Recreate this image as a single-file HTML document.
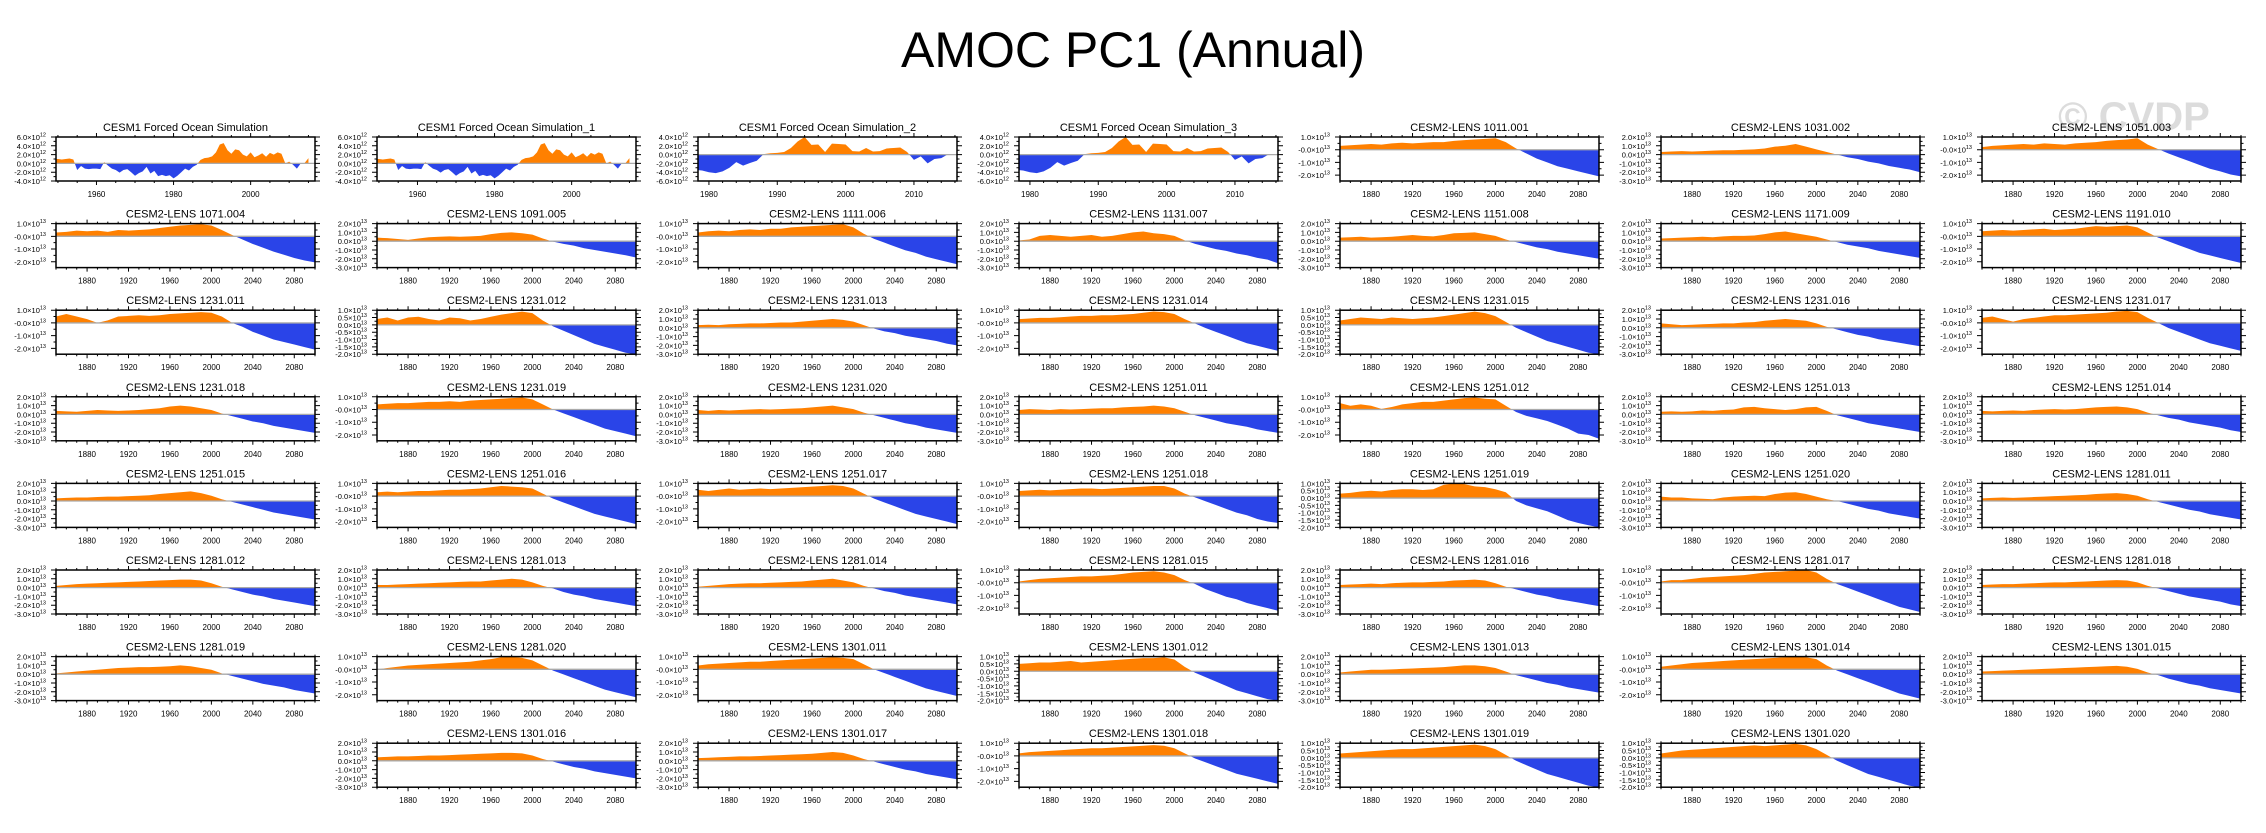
<!DOCTYPE html>
<html><head><meta charset="utf-8"><style>
html,body{margin:0;padding:0;background:#fff;}
svg{display:block;font-family:"Liberation Sans",Arial,sans-serif;}
</style></head><body>
<svg id="fig" width="2266" height="833" viewBox="0 0 2266 833" xmlns="http://www.w3.org/2000/svg">
<rect x="0" y="0" width="2266" height="833" fill="#fff"/>
<text x="1133" y="67" font-size="50" text-anchor="middle" fill="#000">AMOC PC1 (Annual)</text>
<text x="2134" y="130" font-size="40" font-weight="bold" text-anchor="middle" fill="#dcdcdc">© CVDP</text>
<g id="panels"></g>
</svg>
<script>
// ---- chart data ----
const decadeYears = [1850,1860,1870,1880,1890,1900,1910,1920,1930,1940,1950,1960,1970,1980,1990,2000,2010,2020,2030,2040,2050,2060,2070,2080,2090,2100];
const fosYears = [];
for (let y = 1949; y <= 2015; y++) fosYears.push(y);
const fos2Years = [];
for (let y = 1978; y <= 2015; y++) fos2Years.push(y);

const fosValues = [1,1,0.9,1,1.1,0.9,-1.5,-0.6,-1.2,-1.3,-1.2,-1.2,-1.3,0.3,-0.5,-1.2,-1.5,-2.1,-1.5,-1.3,-2.0,-2.8,-2.2,-1.8,-0.8,-2.3,-1.7,-2.9,-2.6,-2.9,-2.7,-3.4,-2.8,-2.0,-1.2,-1.6,-0.8,-0.3,0.8,1.2,1.3,1.6,2.5,4.3,4.6,3.0,2.2,3.2,3.0,2.0,1.6,2.5,1.4,1.8,2.3,1.5,2.4,2.0,2.5,2.2,0.0,0.4,-0.3,-1.2,0.0,0.1,1.2];
const fos1Values = [1,1,0.9,1,1.1,0.9,-1.5,-0.6,-1.2,-1.3,-1.2,-1.2,-1.3,0.3,-0.5,-1.2,-1.5,-2.1,-1.5,-1.3,-2.0,-2.8,-2.2,-1.8,-0.8,-2.3,-1.7,-2.9,-2.6,-2.9,-2.7,-3.4,-2.8,-2.0,-1.2,-1.6,-0.8,-0.3,0.8,1.2,1.3,1.6,2.5,4.3,4.6,3.0,2.2,3.2,3.0,2.0,1.6,2.5,1.4,1.8,2.3,1.5,2.4,2.0,2.5,2.2,0.0,0.4,-0.3,-1.2,0.0,0.1,1.2];
const fos2Values = [-3.5,-3.6,-4.0,-4.2,-3.8,-3.0,-1.7,-2.5,-1.9,-1.4,0.1,0.3,0.4,0.6,1.5,3.0,4.0,2.2,2.3,0.6,2.5,2.4,2.3,0.8,0.7,1.5,0.7,0.8,1.4,1.5,1.6,0.6,-1.2,-0.4,-2.0,-1.0,-0.8,0.1];
const fos3Values = [-3.5,-3.6,-4.0,-4.2,-3.8,-3.0,-1.7,-2.5,-1.9,-1.4,0.1,0.3,0.4,0.6,1.5,3.0,4.0,2.2,2.3,0.6,2.5,2.4,2.3,0.8,0.7,1.5,0.7,0.8,1.4,1.5,1.6,0.6,-1.2,-0.4,-2.0,-1.0,-0.8,0.1];

const d1011_001 = [0.3,0.35,0.4,0.45,0.4,0.5,0.55,0.5,0.55,0.6,0.6,0.7,0.75,0.8,0.85,0.9,0.6,0.1,-0.3,-0.7,-1.0,-1.3,-1.5,-1.7,-1.9,-2.1];
const d1031_002 = [0.3,0.35,0.4,0.35,0.4,0.45,0.5,0.5,0.55,0.6,0.7,0.9,1.0,1.2,0.9,0.6,0.3,0.0,-0.3,-0.5,-0.8,-1.0,-1.3,-1.5,-1.7,-2.0];
const d1051_003 = [0.2,0.3,0.35,0.4,0.45,0.4,0.5,0.45,0.4,0.5,0.55,0.6,0.7,0.75,0.8,0.9,0.4,0.05,-0.3,-0.6,-0.9,-1.2,-1.5,-1.7,-1.95,-2.1];
const d1071_004 = [0.3,0.35,0.45,0.4,0.45,0.35,0.5,0.45,0.5,0.55,0.65,0.75,0.85,0.9,0.95,0.85,0.5,0.1,-0.25,-0.6,-0.9,-1.2,-1.45,-1.7,-1.9,-2.05];
const d1091_005 = [0.4,0.35,0.25,0.15,0.3,0.45,0.5,0.55,0.5,0.55,0.6,0.8,0.95,1.0,0.9,0.75,0.3,-0.05,-0.3,-0.5,-0.8,-1.0,-1.2,-1.4,-1.6,-1.85];
const d1111_006 = [0.3,0.4,0.45,0.4,0.5,0.55,0.5,0.6,0.6,0.7,0.75,0.8,0.85,0.9,0.95,0.7,0.2,-0.2,-0.5,-0.8,-1.1,-1.3,-1.6,-1.8,-2.0,-2.2];
const d1131_007 = [0.1,0.2,0.6,0.7,0.6,0.5,0.6,0.7,0.5,0.6,0.8,1.0,1.1,0.9,0.8,0.6,0.1,-0.3,-0.6,-0.9,-1.1,-1.4,-1.6,-1.9,-2.1,-2.5];
const d1151_008 = [0.4,0.45,0.5,0.4,0.45,0.5,0.6,0.7,0.6,0.55,0.7,0.9,0.95,1.0,0.8,0.6,0.2,-0.1,-0.4,-0.7,-0.9,-1.2,-1.4,-1.6,-1.8,-2.0];
const d1171_009 = [0.3,0.35,0.4,0.45,0.5,0.45,0.55,0.6,0.6,0.65,0.8,1.0,1.1,0.9,0.7,0.5,0.2,-0.1,-0.4,-0.6,-0.8,-1.1,-1.3,-1.5,-1.7,-1.9];
const d1191_010 = [0.4,0.45,0.5,0.45,0.5,0.55,0.6,0.5,0.55,0.6,0.7,0.8,0.75,0.8,0.85,0.7,0.3,-0.1,-0.4,-0.7,-1.0,-1.3,-1.5,-1.7,-1.9,-2.1];
const d1231_011 = [0.5,0.7,0.5,0.3,0.0,0.2,0.5,0.55,0.6,0.55,0.6,0.7,0.75,0.8,0.85,0.8,0.5,0.0,-0.3,-0.7,-1.0,-1.3,-1.5,-1.7,-1.9,-2.1];
const d1231_012 = [0.4,0.5,0.3,0.5,0.55,0.4,0.3,0.5,0.45,0.3,0.4,0.55,0.7,0.8,0.9,0.8,0.3,-0.1,-0.4,-0.7,-1.0,-1.3,-1.5,-1.7,-1.9,-2.0];
const d1231_013 = [0.3,0.35,0.3,0.4,0.45,0.5,0.5,0.55,0.6,0.6,0.7,0.8,0.9,1.0,0.9,0.7,0.3,-0.1,-0.4,-0.6,-0.9,-1.1,-1.3,-1.5,-1.8,-2.0];
const d1231_014 = [0.3,0.35,0.4,0.4,0.45,0.5,0.55,0.55,0.6,0.6,0.65,0.7,0.8,0.9,0.85,0.7,0.3,-0.05,-0.4,-0.7,-1.0,-1.3,-1.6,-1.8,-2.0,-2.2];
const d1231_015 = [0.3,0.4,0.5,0.45,0.4,0.5,0.45,0.4,0.45,0.5,0.6,0.7,0.8,0.9,0.8,0.6,0.2,-0.2,-0.5,-0.8,-1.1,-1.3,-1.5,-1.7,-1.9,-2.0];
const d1231_016 = [0.5,0.4,0.3,0.35,0.4,0.45,0.5,0.5,0.6,0.65,0.8,0.9,1.0,0.9,0.8,0.5,0.1,-0.2,-0.5,-0.8,-1.0,-1.3,-1.5,-1.7,-1.9,-2.1];
const d1231_017 = [0.4,0.5,0.3,0.1,0.3,0.4,0.5,0.6,0.6,0.65,0.7,0.75,0.8,0.9,0.95,0.85,0.4,0.0,-0.4,-0.7,-1.0,-1.3,-1.6,-1.8,-2.0,-2.2];
const d1231_018 = [0.4,0.35,0.3,0.4,0.5,0.45,0.4,0.45,0.5,0.6,0.7,0.9,1.0,0.9,0.7,0.5,0.1,-0.2,-0.5,-0.8,-1.0,-1.3,-1.5,-1.7,-1.9,-2.1];
const d1231_019 = [0.4,0.45,0.5,0.5,0.55,0.6,0.6,0.65,0.6,0.7,0.75,0.8,0.85,0.9,0.95,0.8,0.4,0.0,-0.3,-0.6,-0.9,-1.2,-1.5,-1.7,-1.9,-2.1];
const d1231_020 = [0.5,0.4,0.5,0.45,0.5,0.55,0.6,0.55,0.6,0.65,0.7,0.8,0.9,1.0,0.8,0.6,0.2,-0.1,-0.4,-0.7,-1.0,-1.2,-1.5,-1.7,-1.9,-2.1];
const d1251_011 = [0.5,0.6,0.55,0.5,0.6,0.55,0.6,0.65,0.7,0.7,0.8,0.85,0.9,1.0,0.9,0.7,0.3,-0.1,-0.4,-0.7,-1.0,-1.2,-1.4,-1.7,-1.9,-2.1];
const d1251_012 = [0.5,0.3,0.4,0.3,0.05,0.2,0.4,0.5,0.6,0.6,0.7,0.8,0.9,0.95,0.85,0.8,0.3,-0.2,-0.5,-0.7,-0.9,-1.2,-1.5,-1.9,-2.0,-2.3];
const d1251_013 = [0.3,0.35,0.3,0.35,0.45,0.4,0.5,0.55,0.8,0.85,0.7,0.6,0.5,0.6,0.8,0.85,0.4,-0.1,-0.4,-0.7,-1.0,-1.2,-1.4,-1.6,-1.8,-2.0];
const d1251_014 = [0.4,0.35,0.4,0.45,0.4,0.5,0.55,0.6,0.55,0.6,0.7,0.8,0.85,0.9,0.8,0.6,0.2,-0.1,-0.4,-0.6,-0.9,-1.1,-1.3,-1.5,-1.8,-2.0];
const d1251_015 = [0.3,0.35,0.4,0.4,0.45,0.5,0.5,0.55,0.6,0.65,0.8,0.9,1.0,1.1,0.9,0.6,0.2,-0.1,-0.4,-0.7,-1.0,-1.3,-1.5,-1.7,-1.9,-2.1];
const d1251_016 = [0.3,0.35,0.3,0.35,0.4,0.4,0.45,0.5,0.5,0.55,0.6,0.7,0.8,0.75,0.7,0.6,0.2,-0.2,-0.5,-0.8,-1.1,-1.4,-1.6,-1.8,-2.0,-2.2];
const d1251_017 = [0.5,0.4,0.5,0.6,0.5,0.55,0.6,0.55,0.6,0.65,0.7,0.75,0.8,0.85,0.8,0.6,0.2,-0.2,-0.5,-0.8,-1.1,-1.4,-1.6,-1.8,-2.0,-2.2];
const d1251_018 = [0.4,0.45,0.5,0.45,0.5,0.55,0.6,0.6,0.55,0.6,0.65,0.7,0.75,0.8,0.8,0.6,0.2,-0.1,-0.4,-0.7,-1.0,-1.3,-1.5,-1.8,-2.0,-2.1];
const d1251_019 = [0.3,0.35,0.45,0.5,0.45,0.55,0.6,0.6,0.55,0.6,0.9,1.0,0.95,0.8,0.75,0.6,0.4,-0.2,-0.5,-0.7,-0.9,-1.2,-1.5,-1.7,-1.85,-2.0];
const d1251_020 = [0.5,0.4,0.4,0.3,0.25,0.2,0.4,0.5,0.55,0.6,0.55,0.8,0.95,1.0,0.8,0.5,0.2,0.0,-0.3,-0.6,-0.9,-1.1,-1.4,-1.6,-1.8,-2.0];
const d1281_011 = [0.3,0.35,0.4,0.35,0.4,0.45,0.5,0.55,0.6,0.65,0.7,0.8,0.85,0.9,0.8,0.6,0.2,-0.1,-0.4,-0.7,-1.0,-1.2,-1.5,-1.7,-1.9,-2.1];
const d1281_012 = [0.2,0.3,0.4,0.45,0.5,0.55,0.6,0.65,0.7,0.75,0.8,0.85,0.9,0.9,0.8,0.5,0.1,-0.2,-0.5,-0.8,-1.0,-1.3,-1.5,-1.7,-1.9,-2.1];
const d1281_013 = [0.3,0.3,0.35,0.4,0.45,0.5,0.55,0.6,0.65,0.7,0.7,0.8,0.9,1.0,0.9,0.6,0.2,-0.1,-0.5,-0.8,-1.0,-1.3,-1.5,-1.7,-1.9,-2.1];
const d1281_014 = [0.1,0.2,0.3,0.4,0.45,0.5,0.5,0.55,0.6,0.65,0.7,0.8,0.9,1.0,0.8,0.6,0.2,-0.1,-0.4,-0.6,-0.9,-1.1,-1.3,-1.5,-1.7,-1.9];
const d1281_015 = [0.1,0.2,0.3,0.35,0.4,0.45,0.5,0.5,0.55,0.6,0.7,0.8,0.85,0.9,0.8,0.6,0.2,-0.1,-0.5,-0.8,-1.1,-1.3,-1.6,-1.8,-2.0,-2.2];
const d1281_016 = [0.3,0.35,0.4,0.45,0.4,0.5,0.55,0.6,0.6,0.65,0.7,0.8,0.85,0.9,0.8,0.5,0.1,-0.2,-0.5,-0.8,-1.0,-1.3,-1.5,-1.7,-1.9,-2.1];
const d1281_017 = [0.1,0.2,0.2,0.3,0.4,0.45,0.5,0.55,0.6,0.7,0.8,0.85,0.9,0.95,1.0,0.8,0.3,-0.1,-0.4,-0.7,-1.0,-1.3,-1.6,-1.9,-2.1,-2.3];
const d1281_018 = [0.3,0.35,0.4,0.4,0.45,0.5,0.55,0.6,0.6,0.65,0.7,0.75,0.8,0.85,0.8,0.6,0.2,-0.1,-0.4,-0.7,-1.0,-1.2,-1.4,-1.6,-1.9,-2.1];
const d1281_019 = [0.1,0.2,0.3,0.4,0.5,0.6,0.7,0.75,0.8,0.8,0.85,0.9,1.0,0.9,0.7,0.5,0.1,-0.2,-0.5,-0.8,-1.1,-1.3,-1.5,-1.8,-2.0,-2.2];
const d1281_020 = [0.0,0.1,0.2,0.3,0.35,0.4,0.45,0.5,0.55,0.6,0.7,0.8,0.95,1.0,0.9,0.7,0.3,-0.1,-0.4,-0.7,-1.0,-1.3,-1.6,-1.8,-2.0,-2.2];
const d1301_011 = [0.3,0.4,0.45,0.5,0.55,0.6,0.6,0.65,0.7,0.75,0.8,0.85,0.9,0.95,0.9,0.8,0.4,0.0,-0.3,-0.6,-0.9,-1.2,-1.5,-1.7,-1.9,-2.1];
const d1301_012 = [0.5,0.55,0.6,0.6,0.65,0.7,0.6,0.65,0.7,0.75,0.8,0.85,0.9,0.9,0.95,0.8,0.3,-0.1,-0.4,-0.7,-1.0,-1.3,-1.5,-1.7,-1.9,-2.0];
const d1301_013 = [0.2,0.3,0.4,0.5,0.5,0.55,0.6,0.65,0.7,0.75,0.8,0.9,1.0,1.0,0.9,0.7,0.3,-0.1,-0.4,-0.7,-1.0,-1.2,-1.5,-1.7,-1.9,-2.1];
const d1301_014 = [0.2,0.3,0.4,0.5,0.55,0.6,0.65,0.7,0.75,0.8,0.85,0.9,0.95,1.0,0.95,0.8,0.3,-0.1,-0.4,-0.7,-1.0,-1.3,-1.6,-1.9,-2.1,-2.3];
const d1301_015 = [0.3,0.35,0.4,0.45,0.5,0.55,0.6,0.65,0.7,0.75,0.8,0.85,0.9,0.95,0.85,0.6,0.2,-0.1,-0.5,-0.8,-1.1,-1.3,-1.6,-1.8,-2.0,-2.2];
const d1301_016 = [0.4,0.45,0.5,0.5,0.55,0.6,0.6,0.65,0.7,0.75,0.8,0.85,0.9,0.9,0.85,0.6,0.2,-0.1,-0.4,-0.7,-0.9,-1.2,-1.4,-1.6,-1.8,-2.0];
const d1301_017 = [0.3,0.35,0.4,0.45,0.5,0.5,0.55,0.6,0.65,0.7,0.75,0.8,0.9,1.0,0.9,0.6,0.2,-0.1,-0.4,-0.7,-1.0,-1.2,-1.5,-1.7,-1.9,-2.1];
const d1301_018 = [0.2,0.3,0.35,0.4,0.45,0.5,0.55,0.6,0.6,0.65,0.7,0.75,0.8,0.85,0.8,0.6,0.2,-0.2,-0.5,-0.8,-1.1,-1.4,-1.6,-1.8,-2.0,-2.2];
const d1301_019 = [0.3,0.35,0.4,0.45,0.5,0.55,0.6,0.6,0.65,0.7,0.75,0.8,0.85,0.9,0.8,0.6,0.2,-0.2,-0.5,-0.8,-1.1,-1.3,-1.5,-1.7,-1.9,-2.0];
const d1301_020 = [0.3,0.4,0.5,0.55,0.6,0.65,0.7,0.75,0.8,0.85,0.8,0.85,0.9,0.95,0.85,0.6,0.2,-0.2,-0.5,-0.8,-1.1,-1.3,-1.5,-1.7,-1.9,-2.0];

// tick labels / values
const yTickValsA = [1,0,-1,-2];
const yTickLabsA = ["1.0","-0.0","-1.0","-2.0"];
const yTickValsB = [2,1,0,-1,-2,-3];
const yTickLabsB = ["2.0","1.0","0.0","-1.0","-2.0","-3.0"];
const yTickValsC = [1,0.5,0,-0.5,-1,-1.5,-2];
const yTickLabsC = ["1.0","0.5","0.0","-0.5","-1.0","-1.5","-2.0"];
const yTickValsF = [6,4,2,0,-2,-4];
const yTickLabsF = ["6.0","4.0","2.0","0.0","-2.0","-4.0"];
const yTickValsG = [4,2,0,-2,-4,-6];
const yTickLabsG = ["4.0","2.0","0.0","-2.0","-4.0","-6.0"];
const xTicksLens = [1880,1920,1960,2000,2040,2080];
const xTicksFos = [1960,1980,2000];
const xTicksFos2 = [1980,1990,2000,2010];

const panelList = [
 ["CESM1 Forced Ocean Simulation", fosYears, fosValues, "F"],
 ["CESM1 Forced Ocean Simulation_1", fosYears, fos1Values, "F"],
 ["CESM1 Forced Ocean Simulation_2", fos2Years, fos2Values, "G"],
 ["CESM1 Forced Ocean Simulation_3", fos2Years, fos3Values, "G"],
 ["CESM2-LENS 1011.001", decadeYears, d1011_001, "A"],
 ["CESM2-LENS 1031.002", decadeYears, d1031_002, "B"],
 ["CESM2-LENS 1051.003", decadeYears, d1051_003, "A"],
 ["CESM2-LENS 1071.004", decadeYears, d1071_004, "A"],
 ["CESM2-LENS 1091.005", decadeYears, d1091_005, "B"],
 ["CESM2-LENS 1111.006", decadeYears, d1111_006, "A"],
 ["CESM2-LENS 1131.007", decadeYears, d1131_007, "B"],
 ["CESM2-LENS 1151.008", decadeYears, d1151_008, "B"],
 ["CESM2-LENS 1171.009", decadeYears, d1171_009, "B"],
 ["CESM2-LENS 1191.010", decadeYears, d1191_010, "A"],
 ["CESM2-LENS 1231.011", decadeYears, d1231_011, "A"],
 ["CESM2-LENS 1231.012", decadeYears, d1231_012, "C"],
 ["CESM2-LENS 1231.013", decadeYears, d1231_013, "B"],
 ["CESM2-LENS 1231.014", decadeYears, d1231_014, "A"],
 ["CESM2-LENS 1231.015", decadeYears, d1231_015, "C"],
 ["CESM2-LENS 1231.016", decadeYears, d1231_016, "B"],
 ["CESM2-LENS 1231.017", decadeYears, d1231_017, "A"],
 ["CESM2-LENS 1231.018", decadeYears, d1231_018, "B"],
 ["CESM2-LENS 1231.019", decadeYears, d1231_019, "A"],
 ["CESM2-LENS 1231.020", decadeYears, d1231_020, "B"],
 ["CESM2-LENS 1251.011", decadeYears, d1251_011, "B"],
 ["CESM2-LENS 1251.012", decadeYears, d1251_012, "A"],
 ["CESM2-LENS 1251.013", decadeYears, d1251_013, "B"],
 ["CESM2-LENS 1251.014", decadeYears, d1251_014, "B"],
 ["CESM2-LENS 1251.015", decadeYears, d1251_015, "B"],
 ["CESM2-LENS 1251.016", decadeYears, d1251_016, "A"],
 ["CESM2-LENS 1251.017", decadeYears, d1251_017, "A"],
 ["CESM2-LENS 1251.018", decadeYears, d1251_018, "A"],
 ["CESM2-LENS 1251.019", decadeYears, d1251_019, "C"],
 ["CESM2-LENS 1251.020", decadeYears, d1251_020, "B"],
 ["CESM2-LENS 1281.011", decadeYears, d1281_011, "B"],
 ["CESM2-LENS 1281.012", decadeYears, d1281_012, "B"],
 ["CESM2-LENS 1281.013", decadeYears, d1281_013, "B"],
 ["CESM2-LENS 1281.014", decadeYears, d1281_014, "B"],
 ["CESM2-LENS 1281.015", decadeYears, d1281_015, "A"],
 ["CESM2-LENS 1281.016", decadeYears, d1281_016, "B"],
 ["CESM2-LENS 1281.017", decadeYears, d1281_017, "A"],
 ["CESM2-LENS 1281.018", decadeYears, d1281_018, "B"],
 ["CESM2-LENS 1281.019", decadeYears, d1281_019, "B"],
 ["CESM2-LENS 1281.020", decadeYears, d1281_020, "A"],
 ["CESM2-LENS 1301.011", decadeYears, d1301_011, "A"],
 ["CESM2-LENS 1301.012", decadeYears, d1301_012, "C"],
 ["CESM2-LENS 1301.013", decadeYears, d1301_013, "B"],
 ["CESM2-LENS 1301.014", decadeYears, d1301_014, "A"],
 ["CESM2-LENS 1301.015", decadeYears, d1301_015, "B"],
 null,
 ["CESM2-LENS 1301.016", decadeYears, d1301_016, "B"],
 ["CESM2-LENS 1301.017", decadeYears, d1301_017, "B"],
 ["CESM2-LENS 1301.018", decadeYears, d1301_018, "A"],
 ["CESM2-LENS 1301.019", decadeYears, d1301_019, "C"],
 ["CESM2-LENS 1301.020", decadeYears, d1301_020, "C"]
];

const NS = "http://www.w3.org/2000/svg";
const root = document.getElementById("panels");
function mk(tag, attrs, parent) {
  const e = document.createElementNS(NS, tag);
  for (const k in attrs) e.setAttribute(k, attrs[k]);
  parent.appendChild(e);
  return e;
}
const axisCfg = {
  A: {vals: yTickValsA, labs: yTickLabsA, top: 1, bot: -2.46, exp: "13", minor: 0.5},
  B: {vals: yTickValsB, labs: yTickLabsB, top: 2, bot: -3, exp: "13", minor: 0.5},
  C: {vals: yTickValsC, labs: yTickLabsC, top: 1, bot: -2, exp: "13", minor: 0.25},
  F: {vals: yTickValsF, labs: yTickLabsF, top: 6, bot: -4, exp: "12", minor: 1},
  G: {vals: yTickValsG, labs: yTickLabsG, top: 4, bot: -6, exp: "12", minor: 1}
};
const PW = 259, PH = 44;

panelList.forEach((p, i) => {
  if (!p) return;
  const col = i % 7, row = Math.floor(i / 7);
  const L = 56 + col * 321, T = 137 + row * 86.6, R = L + PW, B = T + PH;
  const title = p[0], xs = p[1], ys = p[2], cfg = axisCfg[p[3]];
  let xmin, xmax, xMaj, xMinStep;
  if (p[3] === "F") { xmin = 1949.5; xmax = 2016.7; xMaj = xTicksFos; xMinStep = 5; }
  else if (p[3] === "G") { xmin = 1978.4; xmax = 2016.3; xMaj = xTicksFos2; xMinStep = 2; }
  else { xmin = 1850; xmax = 2100; xMaj = xTicksLens; xMinStep = 10; }
  const sx = v => L + (v - xmin) / (xmax - xmin) * PW;
  const sy = v => T + (cfg.top - v) / (cfg.top - cfg.bot) * PH;

  const g = mk("g", {}, root);
  
  

  const t = mk("text", {x: L + PW / 2, y: T - 6, "font-size": 11, "text-anchor": "middle", fill: "#000"}, g);
  t.textContent = title;
  
  

  const cid = "c" + i;
  const defs = mk("defs", {}, g);
  const cpPos = mk("clipPath", {id: cid + "p"}, defs);
  mk("rect", {x: L, y: T, width: PW, height: sy(0) - T}, cpPos);
  const cpNeg = mk("clipPath", {id: cid + "n"}, defs);
  mk("rect", {x: L, y: sy(0), width: PW, height: B - sy(0)}, cpNeg);

  let d = "M" + sx(xs[0]).toFixed(2) + "," + sy(0).toFixed(2);
  for (let k = 0; k < xs.length; k++) d += " L" + sx(xs[k]).toFixed(2) + "," + sy(ys[k]).toFixed(2);
  d += " L" + sx(xs[xs.length - 1]).toFixed(2) + "," + sy(0).toFixed(2) + " Z";
  const pos = mk("path", {d: d, fill: "#ff8000", "clip-path": "url(#" + cid + "p)"}, g);
  
  
  const neg = mk("path", {d: d, fill: "#2a44e8", "clip-path": "url(#" + cid + "n)"}, g);
  
  

  const zl = mk("line", {x1: L, x2: R, y1: sy(0), y2: sy(0), stroke: "#aaa", "stroke-width": 1.3}, g);
  
  

  const fr = mk("rect", {x: L, y: T, width: PW, height: PH, fill: "none", stroke: "#000", "stroke-width": 1.5}, g);
  
  

  let td = "";
  const x0 = Math.ceil(xmin / xMinStep) * xMinStep;
  for (let v = x0; v <= xmax; v += xMinStep) {
    const x = sx(v).toFixed(2);
    const major = xMaj.indexOf(v) >= 0;
    const len = major ? 4 : 2;
    td += "M" + x + "," + B + "v" + len + "M" + x + "," + T + "v-" + len;
  }
  const yStart = Math.ceil(cfg.bot / cfg.minor) * cfg.minor;
  for (let v = yStart; v <= cfg.top + 1e-6; v += cfg.minor) {
    const y = sy(v).toFixed(2);
    const major = cfg.vals.some(m => Math.abs(m - v) < 1e-6);
    const len = major ? 5 : 2.5;
    td += "M" + L + "," + y + "h-" + len + "M" + R + "," + y + "h" + len;
  }
  const ticks = mk("path", {d: td, stroke: "#000", "stroke-width": 1, fill: "none"}, g);
  
  

  xMaj.forEach(v => {
    const tx = mk("text", {x: sx(v), y: B + 16, "font-size": 8, "text-anchor": "middle", fill: "#000"}, g);
    tx.textContent = String(v);
    
    
  });
  cfg.vals.forEach((v, k) => {
    const ty = mk("text", {x: L - 10, y: sy(v) + 3, "font-size": 7.5, "text-anchor": "end", fill: "#000"}, g);
    
    
    const a = mk("tspan", {}, ty);
    a.textContent = cfg.labs[k] + "×10";
    const s = mk("tspan", {dy: -3.5, "font-size": 5.5}, ty);
    s.textContent = cfg.exp;
  });
});
</script>
</body></html>
